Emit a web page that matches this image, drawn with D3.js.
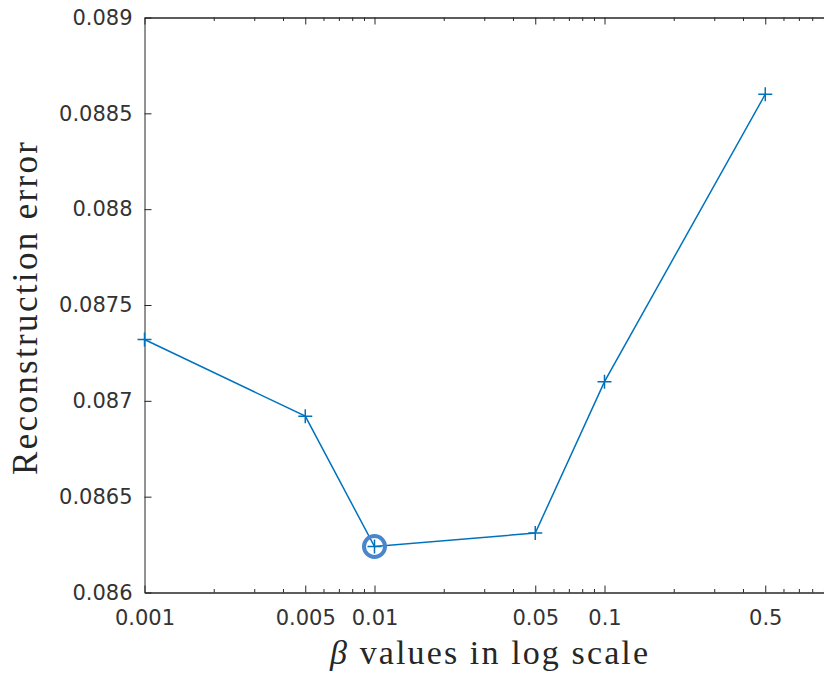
<!DOCTYPE html>
<html>
<head>
<meta charset="utf-8">
<script src="https://cdn.jsdelivr.net/npm/d3@7"></script>
<style>
  body { margin: 0; background: #fff; }
  svg { display: block; }
</style>
</head>
<body>
<svg id="chart" width="824" height="679"></svg>
<script>
// beta values and reconstruction error
const betas = [0.001, 0.005, 0.01, 0.05, 0.1, 0.5];
const errors = [0.08732, 0.08692, 0.08624, 0.08631, 0.0871, 0.0886];
const xTickValues = [0.001, 0.005, 0.01, 0.05, 0.1, 0.5];
const xTickLabels = ["0.001", "0.005", "0.01", "0.05", "0.1", "0.5"];
const yTickValues = [0.086, 0.0865, 0.087, 0.0875, 0.088, 0.0885, 0.089];
const yTickLabels = ["0.086", "0.0865", "0.087", "0.0875", "0.088", "0.0885", "0.089"];
const bestBeta = 0.01;

const svg = d3.select("#chart");
const axisColor = "#262626";
const lineColor = "#0072BD";

// plot box (right edge runs past the window, as in the original)
const plotLeft = 144.5, plotRight = 834.5, plotTop = 17.5, plotBottom = 592.5;

const x = d3.scaleLog().domain([0.001, 1]).range([plotLeft, plotRight]);
const y = d3.scaleLinear().domain([0.086, 0.089]).range([plotBottom, plotTop]);

// minor log ticks 2..9 for every decade
const minorTicks = x.ticks().filter((v) => !xTickValues.some((t) => Math.abs(t - v) < 1e-12));

function styleAxis(g) {
  g.select(".domain").attr("stroke", axisColor).attr("stroke-width", 1);
  g.selectAll(".tick line").attr("stroke", axisColor).attr("stroke-width", 1);
  g.selectAll(".tick text")
    .attr("fill", "#333")
    .attr("font-family", "DejaVu Sans")
    .attr("font-size", "21px");
}

// bottom axis
svg.append("g")
  .attr("transform", `translate(0,${plotBottom})`)
  .call(d3.axisBottom(x).tickValues(minorTicks).tickSizeInner(-3.5).tickSizeOuter(0).tickFormat(""))
  .call(styleAxis);
svg.append("g")
  .attr("transform", `translate(0,${plotBottom})`)
  .call(
    d3.axisBottom(x)
      .tickValues(xTickValues)
      .tickSizeInner(-7)
      .tickSizeOuter(0)
      .tickPadding(17.5)
      .tickFormat((d, i) => xTickLabels[i])
  )
  .call(styleAxis);

// top axis, ticks only
svg.append("g")
  .attr("transform", `translate(0,${plotTop})`)
  .call(d3.axisTop(x).tickValues(minorTicks).tickSizeInner(-3.5).tickSizeOuter(0).tickFormat(""))
  .call(styleAxis);
svg.append("g")
  .attr("transform", `translate(0,${plotTop})`)
  .call(d3.axisTop(x).tickValues(xTickValues).tickSizeInner(-7).tickSizeOuter(0).tickFormat(""))
  .call(styleAxis);

// left axis
svg.append("g")
  .attr("transform", `translate(${plotLeft},0)`)
  .call(
    d3.axisLeft(y)
      .tickValues(yTickValues)
      .tickSizeInner(-7)
      .tickSizeOuter(0)
      .tickPadding(12)
      .tickFormat((d, i) => yTickLabels[i])
  )
  .call(styleAxis);

// data line
const line = d3.line()
  .x((d, i) => x(betas[i]))
  .y((d) => y(d));

svg.append("path")
  .datum(errors)
  .attr("d", line)
  .attr("fill", "none")
  .attr("stroke", lineColor)
  .attr("stroke-width", 1.5);

// highlight the minimum
const bestIdx = betas.indexOf(bestBeta);
svg.append("circle")
  .attr("cx", x(betas[bestIdx]))
  .attr("cy", y(errors[bestIdx]))
  .attr("r", 10.5)
  .attr("fill", "none")
  .attr("stroke", "#4a86cc")
  .attr("stroke-width", 4);

// plus markers
svg.append("g")
  .selectAll("path")
  .data(errors)
  .join("path")
  .attr("transform", (d, i) => `translate(${x(betas[i])},${y(d)})`)
  .attr("d", "M-7,0H7M0,-7V7")
  .attr("stroke", lineColor)
  .attr("stroke-width", 1.5)
  .attr("fill", "none");

// axis labels
const xlab = svg.append("text")
  .attr("x", 489)
  .attr("y", 664)
  .attr("text-anchor", "middle")
  .attr("font-family", "Liberation Serif, DejaVu Serif, serif")
  .attr("font-size", "34px")
  .attr("fill", axisColor)
  .attr("textLength", 318)
  .attr("lengthAdjust", "spacing");
xlab.append("tspan").attr("font-style", "italic").text("β");
xlab.append("tspan").text(" values in log scale");

svg.append("text")
  .attr("transform", "translate(37,308.5) rotate(-90)")
  .attr("text-anchor", "middle")
  .attr("font-family", "Liberation Serif, DejaVu Serif, serif")
  .attr("font-size", "35px")
  .attr("fill", axisColor)
  .attr("textLength", 333)
  .attr("lengthAdjust", "spacing")
  .text("Reconstruction error");
</script>
</body>
</html>
